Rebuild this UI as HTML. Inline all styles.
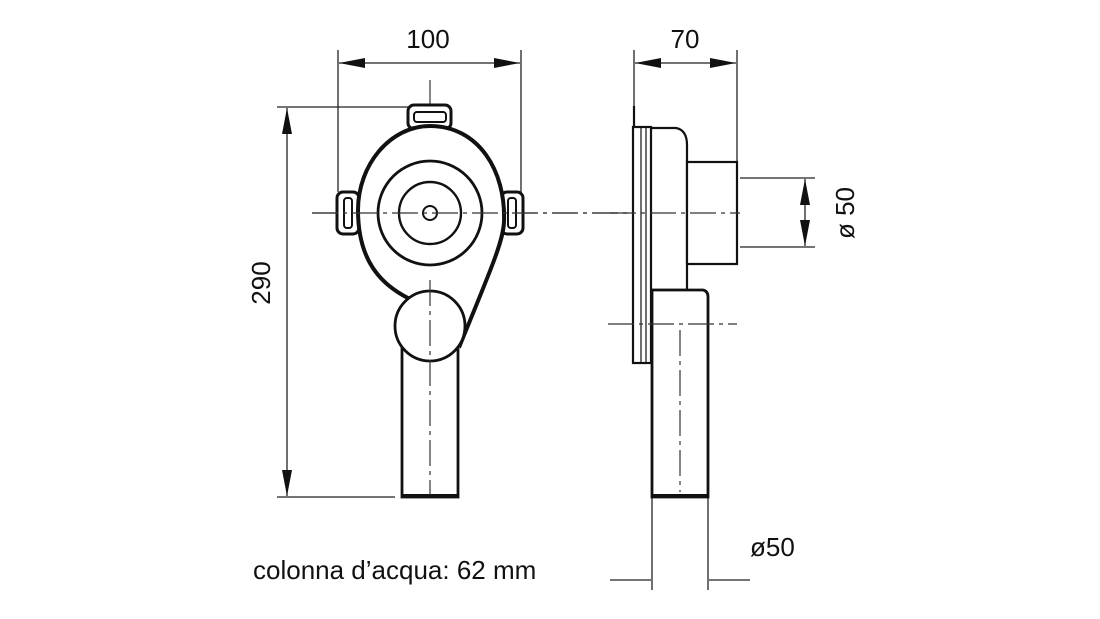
<!DOCTYPE html>
<html><head><style>html,body{margin:0;padding:0;background:#fff}svg{display:block}</style></head>
<body>
<svg width="1100" height="619" viewBox="0 0 1100 619" xmlns="http://www.w3.org/2000/svg" font-family="Liberation Sans, sans-serif">
<defs>
<marker id="a" viewBox="0 0 26 10" refX="26" refY="5" markerWidth="26" markerHeight="10" markerUnits="userSpaceOnUse" orient="auto-start-reverse" preserveAspectRatio="none"><path d="M0,0L26,5L0,10z" fill="#111"/></marker>
</defs>
<g stroke="#222" stroke-width="1.3" fill="none">
<line x1="338" y1="50" x2="338" y2="192"/>
<line x1="521" y1="50" x2="521" y2="195"/>
<line x1="339" y1="63" x2="520" y2="63" marker-start="url(#a)" marker-end="url(#a)"/>
<line x1="277" y1="107" x2="410" y2="107"/>
<line x1="277" y1="497" x2="395" y2="497"/>
<line x1="287" y1="108" x2="287" y2="496" marker-start="url(#a)" marker-end="url(#a)"/>
<line x1="634" y1="50" x2="634" y2="106"/>
<line x1="737" y1="50" x2="737" y2="162"/>
<line x1="635" y1="63" x2="736" y2="63" marker-start="url(#a)" marker-end="url(#a)"/>
<line x1="740" y1="178" x2="815" y2="178"/>
<line x1="740" y1="247" x2="815" y2="247"/>
<line x1="805" y1="179" x2="805" y2="246" marker-start="url(#a)" marker-end="url(#a)"/>
<line x1="652" y1="497" x2="652" y2="590"/>
<line x1="708" y1="497" x2="708" y2="590"/>
<line x1="610" y1="580" x2="651" y2="580"/>
<line x1="709" y1="580" x2="750" y2="580"/>
</g>
<g stroke="#333" stroke-width="1.2" fill="none" stroke-dasharray="26,5,4,5">
<line x1="312" y1="213" x2="740" y2="213"/>
<line x1="430" y1="80" x2="430" y2="495"/>
</g>
<g stroke="#111" stroke-width="3" fill="#fff">
<rect x="408" y="105" width="43" height="24" rx="6"/>
<rect x="337" y="192" width="22" height="42" rx="6"/>
<rect x="501" y="192" width="22" height="42" rx="6"/>
<path d="M430,126 C478,126 506,170 504,222 C503,240 495,260 460,345 L412,300 C380,285 358,260 358,210 C358,165 390,126 430,126 Z" stroke-width="4"/>
<rect x="402" y="340" width="56" height="157" stroke-width="2.8"/>
<circle cx="430" cy="326" r="35" stroke-width="2.8"/>
</g>
<g stroke="#111" stroke-width="2" fill="none">
<rect x="414" y="112" width="32" height="10" rx="3"/>
<rect x="344" y="198" width="8" height="30" rx="3"/>
<rect x="508" y="198" width="8" height="30" rx="3"/>
<circle cx="430" cy="213" r="52" stroke-width="2.8"/>
<circle cx="430" cy="213" r="31" stroke-width="2.4"/>
<circle cx="430" cy="213" r="7" stroke-width="2"/>
<line x1="402" y1="496" x2="458" y2="496" stroke-width="4"/>
</g>
<g stroke="#333" stroke-width="1.2" fill="none" stroke-dasharray="26,5,4,5">
<line x1="430" y1="280" x2="430" y2="495"/>
<line x1="312" y1="213" x2="740" y2="213"/>
</g>
<g stroke="#111" stroke-width="2.2" fill="#fff">
<path d="M650,128 L676,128 Q687,130 687,145 L687,290 L650,290 Z"/>
<rect x="687" y="162" width="50" height="102"/>
<path d="M652,290 L703,290 Q708,291 708,297 L708,497 L652,497 Z" stroke-width="2.8"/>
<rect x="633" y="127" width="18" height="236"/>
<line x1="634" y1="106" x2="634" y2="127"/>
<line x1="641" y1="128" x2="641" y2="362" stroke-width="1.2"/>
<line x1="646" y1="128" x2="646" y2="362" stroke-width="1.2"/>
<line x1="652" y1="496" x2="708" y2="496" stroke-width="4"/>
</g>
<g stroke="#333" stroke-width="1.2" fill="none" stroke-dasharray="26,5,4,5">
<line x1="610" y1="213" x2="740" y2="213"/>
<line x1="608" y1="324" x2="737" y2="324"/>
<line x1="680" y1="330" x2="680" y2="492"/>
</g>
<g fill="#111" font-size="26">
<text x="428" y="48" text-anchor="middle">100</text>
<text x="685" y="48" text-anchor="middle">70</text>
<text transform="translate(270,283) rotate(-90)" text-anchor="middle">290</text>
<text transform="translate(854,213) rotate(-90)" text-anchor="middle">ø 50</text>
<text x="750" y="556">ø50</text>
<text x="253" y="579">colonna d’acqua: 62 mm</text>
</g>
</svg>
</body></html>
